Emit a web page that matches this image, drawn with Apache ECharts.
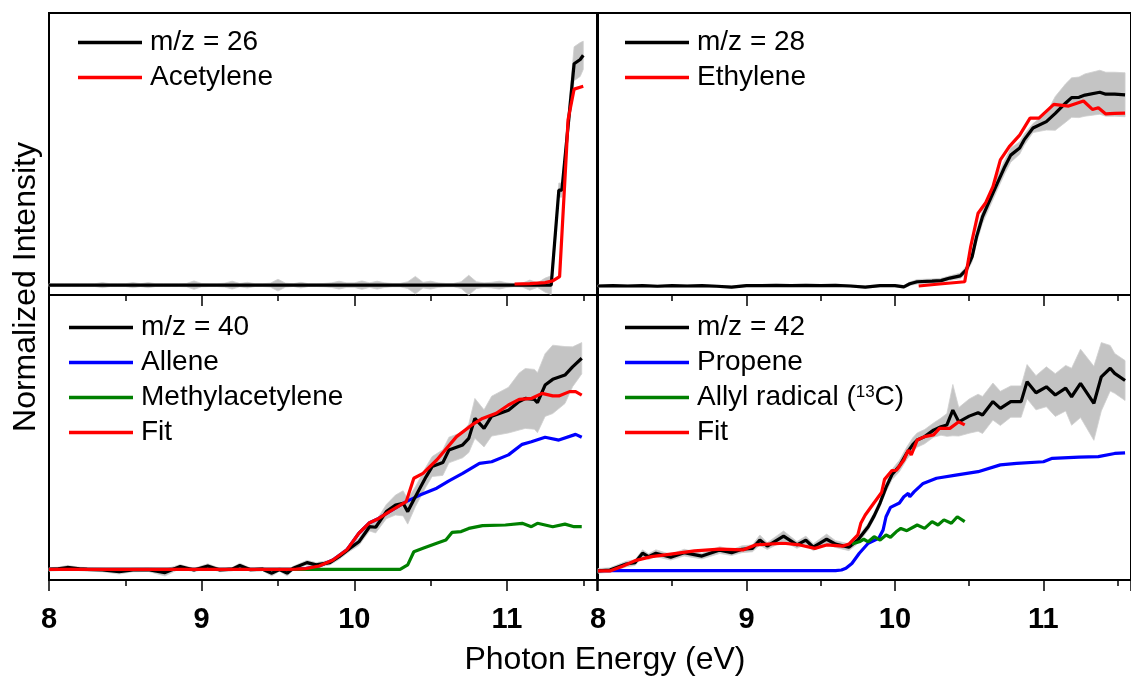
<!DOCTYPE html>
<html>
<head>
<meta charset="utf-8">
<script src="https://cdn.jsdelivr.net/npm/echarts@6/dist/echarts.min.js"></script>
<style>
  html, body { margin: 0; padding: 0; background: #fff; }
  #chart { width: 1131px; height: 683px; }
</style>
</head>
<body>
<div id="chart"></div>
<script>
// y values are read as percent of each panel's height (baseline ~3.5)
// ---- top left: m/z = 26 ----
const xMz26 = [8.00,8.05,8.10,8.15,8.20,8.25,8.30,8.35,8.40,8.45,8.50,8.55,8.60,8.65,8.70,8.75,8.80,8.85,8.90,8.95,
  9.00,9.05,9.10,9.15,9.20,9.25,9.30,9.35,9.40,9.45,9.50,9.55,9.60,9.65,9.70,9.75,9.80,9.85,9.90,9.95,
  10.00,10.05,10.10,10.15,10.20,10.25,10.30,10.35,10.40,10.45,10.50,10.55,10.60,10.65,10.70,10.75,10.80,10.85,10.90,10.95,
  11.00,11.05,11.10,11.15,11.20,11.25,11.29,11.34,11.36,11.44,11.48,11.50];
const yMz26 = [3.5,3.5,3.5,3.5,3.5,3.5,3.5,3.5,3.5,3.5,3.5,3.5,3.5,3.5,3.5,3.5,3.5,3.5,3.5,3.5,
  3.5,3.5,3.5,3.5,3.5,3.5,3.5,3.5,3.5,3.5,3.5,3.5,3.5,3.5,3.5,3.5,3.5,3.5,3.5,3.5,
  3.5,3.5,3.5,3.5,3.5,3.5,3.5,3.5,3.5,3.5,3.5,3.5,3.5,3.5,3.5,3.5,3.5,3.5,3.5,3.5,
  3.5,3.5,3.5,3.5,3.5,3.5,3.5,37.2,37.2,82,83.5,85];
const errMz26 = [.5,.5,.5,.5,.5,.5,.5,.9,.5,.5,.5,.9,.5,.9,.5,.5,.5,.5,.6,1.5,
  .6,.5,.5,.7,1.4,.6,1.0,.5,.5,.7,2.1,.7,.5,1.0,.5,.5,.6,.8,1.4,.8,
  .8,1.5,.8,1.4,.8,.6,.6,1.2,3.1,1.0,1.4,.8,.6,.6,1.2,3.5,1.2,.8,1.0,1.4,
  .8,.6,.7,1.8,.8,2.5,3.3,2.5,2.5,6,6,5];
const xAcetylene = [11.05,11.15,11.25,11.30,11.345,11.39,11.40,11.44,11.50];
const yAcetylene = [3.9,4.0,4.4,5.0,6.5,51,62,73,74];

// ---- top right: m/z = 28 ----
const xMz28 = [8.0,8.1,8.2,8.3,8.4,8.5,8.6,8.7,8.8,8.9,9.0,9.1,9.2,9.3,9.4,9.5,9.6,9.7,9.8,9.9,10.0,
  10.06,10.1,10.15,10.25,10.31,10.37,10.44,10.48,10.52,10.55,10.59,10.63,10.69,10.74,10.78,10.84,10.87,10.93,
  11.02,11.08,11.15,11.19,11.24,11.28,11.38,11.42,11.48,11.55];
const yMz28 = [3.2,3.3,3.2,3.3,3.1,3.3,3.2,3.3,3.1,2.8,3.3,3.3,3.4,3.3,3.4,3.3,3.4,3.2,2.8,3.3,3.3,
  2.9,4.0,4.7,4.9,5.1,6.0,6.8,8.9,13.6,20.7,27.8,32.6,39.7,45.5,49.6,52.1,55.0,59.2,
  61.5,64.4,68.1,70.0,70.1,70.9,71.9,71.2,71.2,71.0];
const errMz28 = [.4,.4,.4,.4,.4,.4,.4,.4,.4,.4,.4,.4,.4,.4,.4,.4,.4,.4,.4,.4,.4,
  .5,.6,.8,.8,.8,.8,1.0,1.3,1.8,2.2,2.4,2.4,2.4,2.4,2.5,2.2,2.0,1.6,
  3.0,6.0,6.8,7.0,7.2,7.5,7.8,7.8,7.8,7.8];
const xEthylene = [10.16,10.30,10.47,10.51,10.56,10.61,10.66,10.71,10.77,10.84,10.91,10.97,11.07,11.17,11.27,11.33,11.37,11.42,11.48,11.55];
const yEthylene = [3.2,3.9,4.7,17.1,29.0,32.6,38.4,47.9,52.6,56.7,62.7,62.7,67.6,67.0,68.8,65.8,66.4,64.2,64.4,64.5];

// ---- bottom left: m/z = 40 ----
const xMz40 = [8.00,8.06,8.12,8.20,8.25,8.35,8.46,8.55,8.65,8.76,8.86,8.95,9.04,9.12,9.20,9.25,9.32,9.40,9.46,9.51,
  9.56,9.60,9.69,9.75,9.84,9.90,9.97,10.03,10.10,10.14,10.21,10.27,10.32,10.35,10.40,10.47,10.51,10.58,10.62,10.71,
  10.75,10.79,10.85,10.90,11.01,11.08,11.12,11.18,11.20,11.25,11.30,11.38,11.43,11.49];
const yMz40 = [3.7,3.9,4.4,3.9,3.7,3.5,2.9,3.5,3.6,2.6,4.7,3.5,4.9,3.5,3.8,5.1,3.6,3.8,2.4,3.7,
  2.4,4.1,6.1,5.3,6.1,8.2,11.1,13.4,18.7,18.5,24.0,26.3,26.9,24.0,29.2,36.2,39.8,41.2,45.6,47.4,
  49.7,56.7,53.2,57.5,59.6,62.6,63.7,63.4,62.2,68.4,70.4,71.9,74.8,77.8];
const errMz40 = [.6,.6,.7,.6,.6,.6,.8,.6,.6,1.2,.7,.6,.8,.6,.6,.8,.6,.6,1.0,.6,
  1.0,.7,.8,.8,.8,1.0,1.0,1.3,1.5,2.0,2.5,3.5,4.4,4.4,3.5,3.5,3.5,4.5,4.5,4.5,
  5.0,7.0,6.5,7.0,8.0,10,10.5,10.5,10.5,11,12,10,7,5.5];
const xAllene = [8.00,9.55,9.62,9.68,9.77,9.86,9.95,10.03,10.10,10.16,10.23,10.34,10.43,10.54,10.62,10.71,10.82,10.90,11.01,11.10,11.16,11.25,11.34,11.45,11.49];
const yAllene = [3.7,3.7,3.8,4.0,4.9,7.0,10.5,16.4,20.1,21.6,24.0,27.5,29.8,32.2,34.8,37.4,40.9,41.5,43.9,47.6,48.5,50.1,49.1,51.1,50.1];
const xMethylacetylene = [8.00,10.30,10.35,10.39,10.45,10.54,10.60,10.64,10.70,10.75,10.84,10.99,11.10,11.16,11.20,11.30,11.38,11.44,11.49];
const yMethylacetylene = [3.7,3.7,5.3,9.9,11.1,12.9,14.0,16.7,17.0,18.1,19.1,19.3,19.9,18.7,19.9,18.7,19.6,18.7,18.7];
const xFit40 = [8.00,9.55,9.62,9.68,9.77,9.86,9.95,10.03,10.10,10.16,10.23,10.34,10.39,10.45,10.54,10.67,10.77,10.84,10.93,11.01,11.08,11.16,11.23,11.30,11.34,11.41,11.45,11.49];
const yFit40 = [3.7,3.7,3.8,4.0,4.9,7.0,10.5,16.4,20.1,21.6,24.0,27.5,35.7,37.4,42.1,50.3,54.4,56.7,58.5,61.4,63.4,63.7,65.5,64.6,64.6,66.1,66.1,64.9];

// ---- bottom right: m/z = 42 ----
const xMz42 = [8.00,8.08,8.19,8.25,8.30,8.34,8.39,8.49,8.58,8.70,8.82,8.90,8.97,9.04,9.09,9.14,9.25,9.34,9.40,9.45,
  9.54,9.60,9.69,9.75,9.82,9.86,9.90,9.94,9.98,10.03,10.08,10.12,10.15,10.20,10.26,10.31,10.35,10.39,10.43,10.50,
  10.56,10.59,10.66,10.71,10.78,10.85,10.89,10.95,11.02,11.08,11.15,11.19,11.25,11.34,11.39,11.45,11.48,11.55];
const yMz42 = [3.2,3.5,5.6,6.1,9.4,8.2,9.4,8.0,9.6,8.4,10.5,9.6,10.8,11.1,14.0,11.9,15.4,12.3,14.0,11.5,
  14.3,12.6,11.5,14.0,18.7,22.5,27.0,32.5,37.0,40.0,44.5,47.5,49.1,50.3,52.6,53.8,54.4,59.6,55.5,57.5,
  58.7,57.9,62.6,60.2,62.6,62.6,69.6,65.7,67.8,64.9,67.3,64.3,69.0,62.0,71.3,74.3,72.5,70.0];
const errMz42 = [.8,.8,1.0,1.0,1.2,1.0,1.2,1.0,1.2,1.0,1.2,1.0,1.2,1.2,1.8,1.2,1.8,1.2,1.4,1.2,
  1.8,1.2,1.2,1.2,1.2,1.2,1.3,1.5,1.8,2.0,2.2,2.4,2.5,2.5,2.5,3.0,4.0,9.0,5.0,6.0,
  6.5,6.5,6.5,6.0,5.5,5.5,6.0,6.0,7.0,7.5,8.0,10.0,12.0,13.0,12.0,8.0,7.0,7.0];
const xPropene = [8.00,9.60,9.64,9.67,9.71,9.76,9.82,9.89,9.92,9.94,9.97,10.03,10.06,10.09,10.10,10.13,10.19,10.28,10.41,10.56,10.71,10.82,11.00,11.06,11.24,11.37,11.48,11.55];
const yPropene = [3.3,3.3,3.5,4.1,5.8,9.4,12.9,14.6,17.5,22.2,25.5,27.0,29.2,30.4,29.2,31.0,33.9,35.7,36.8,38.0,40.4,40.9,41.5,42.7,43.1,43.3,44.4,44.6];
const xAllyl = [9.71,9.76,9.79,9.82,9.86,9.90,9.94,9.97,10.01,10.04,10.08,10.15,10.20,10.25,10.29,10.33,10.38,10.42,10.47];
const yAllyl = [12.6,13.4,14.3,13.4,15.2,14.0,15.8,15.0,17.0,18.1,17.3,19.3,18.1,20.5,19.3,21.1,19.9,22.2,20.5];
const xFit42 = [8.00,8.08,8.17,8.25,8.36,8.49,8.65,8.82,8.98,9.06,9.25,9.36,9.46,9.54,9.65,9.69,9.75,9.77,9.80,9.84,9.91,9.93,9.98,10.01,10.06,10.09,10.11,10.15,10.20,10.26,10.30,10.37,10.43,10.47];
const yFit42 = [3.2,3.2,4.9,6.8,8.2,9.1,10.2,10.8,10.6,12.3,12.9,12.3,11.1,12.3,11.9,12.6,15.8,19.9,22.8,25.7,30.7,35.3,38.4,38.5,42.1,45.6,43.9,49.1,50.3,50.9,53.2,53.2,55.5,54.4];

const xTicks = [8, 9, 10, 11];

const font = 'Liberation Sans, Arial, sans-serif';

function pairs(xs, ys) {
  return xs.map((x, i) => [x, ys[i]]);
}

function line(name, xs, ys, color, idx) {
  return {
    name: name, type: 'line', xAxisIndex: idx, yAxisIndex: idx,
    data: pairs(xs, ys), color: color,
    showSymbol: false, symbol: 'none', silent: true,
    lineStyle: { color: color, width: 3.2 }
  };
}

// gray uncertainty band, drawn as one polygon through the axis scales
function band(xs, ys, err, idx) {
  const rows = xs.map((x, i) => [x, ys[i] - err[i], ys[i] + err[i]]);
  return {
    type: 'custom', xAxisIndex: idx, yAxisIndex: idx, silent: true,
    data: rows, encode: { x: 0, y: [1, 2] },
    renderItem: function (params, api) {
      if (params.dataIndex !== 0) return null;
      const top = rows.map(r => api.coord([r[0], r[2]]));
      const bot = rows.map(r => api.coord([r[0], r[1]])).reverse();
      return {
        type: 'polygon',
        shape: { points: top.concat(bot) },
        style: { fill: '#c4c4c4', stroke: '#cfcfcf', lineWidth: 0.8 }
      };
    }
  };
}

const grids = [
  { left: 49, top: 13, width: 548, height: 282 },
  { left: 598, top: 13, width: 549, height: 282 },
  { left: 49, top: 295, width: 548, height: 285 },
  { left: 598, top: 295, width: 549, height: 285 }
];

function xAxis(idx, labels) {
  return {
    type: 'value', gridIndex: idx, min: xTicks[0], max: 11.59, interval: 1,
    axisLine: { show: true, onZero: false, lineStyle: { color: '#000', width: 2 } },
    axisTick: { show: true, inside: false, length: 11, lineStyle: { color: '#000', width: 1.5 } },
    minorTick: { show: true, splitNumber: 2, length: 6, lineStyle: { color: '#000', width: 1.5 } },
    splitLine: { show: false },
    axisLabel: {
      show: labels, showMaxLabel: false, margin: 25,
      color: '#000', fontFamily: font, fontWeight: 'bold', fontSize: 29
    }
  };
}

function yAxis(idx) {
  return { type: 'value', gridIndex: idx, min: 0, max: 100, show: false, splitLine: { show: false } };
}

function legend(left, top, names) {
  return {
    left: left, top: top, orient: 'vertical', data: names, padding: 0,
    icon: 'rect', itemWidth: 64, itemHeight: 3.5, itemGap: 0,
    selectedMode: false,
    formatter: function (name) {
      return name.replace('¹³', '{sup|13}');
    },
    textStyle: {
      color: '#000', fontFamily: font, fontSize: 28, lineHeight: 35, padding: [0, 0, 0, 3],
      rich: { sup: { fontFamily: font, fontSize: 17, lineHeight: 35, verticalAlign: 'top', padding: [4, 0, 0, 0] } }
    }
  };
}

const option = {
  animation: false,
  backgroundColor: '#fff',
  grid: grids.map(g => Object.assign({ show: true, borderColor: '#000', borderWidth: 2, backgroundColor: 'transparent' }, g)),
  xAxis: [xAxis(0, false), xAxis(1, false), xAxis(2, true), xAxis(3, true)],
  yAxis: [yAxis(0), yAxis(1), yAxis(2), yAxis(3)],
  legend: [
    legend(78, 25, ['m/z = 26', 'Acetylene']),
    legend(625, 25, ['m/z = 28', 'Ethylene']),
    legend(69, 310, ['m/z = 40', 'Allene', 'Methylacetylene', 'Fit']),
    legend(625, 310, ['m/z = 42', 'Propene', 'Allyl radical (¹³C)', 'Fit'])
  ],
  series: [
    band(xMz26, yMz26, errMz26, 0),
    band(xMz28, yMz28, errMz28, 1),
    band(xMz40, yMz40, errMz40, 2),
    band(xMz42, yMz42, errMz42, 3),
    line('m/z = 26', xMz26, yMz26, '#000000', 0),
    line('Acetylene', xAcetylene, yAcetylene, '#ff0000', 0),
    line('m/z = 28', xMz28, yMz28, '#000000', 1),
    line('Ethylene', xEthylene, yEthylene, '#ff0000', 1),
    line('Allene', xAllene, yAllene, '#0000ff', 2),
    line('Methylacetylene', xMethylacetylene, yMethylacetylene, '#008000', 2),
    line('m/z = 40', xMz40, yMz40, '#000000', 2),
    line('Fit', xFit40, yFit40, '#ff0000', 2),
    line('Propene', xPropene, yPropene, '#0000ff', 3),
    line('m/z = 42', xMz42, yMz42, '#000000', 3),
    line('Allyl radical (¹³C)', xAllyl, yAllyl, '#008000', 3),
    line('Fit', xFit42, yFit42, '#ff0000', 3)
  ],
  graphic: [
    { type: 'text', x: 605, y: 660,
      style: { text: 'Photon Energy (eV)', fill: '#000', font: '32px ' + font, align: 'center', verticalAlign: 'middle' } },
    { type: 'text', x: 26, y: 287, rotation: Math.PI / 2,
      style: { text: 'Normalized Intensity', fill: '#000', font: '32px ' + font, align: 'center', verticalAlign: 'middle' } }
  ]
};

const chart = echarts.init(document.getElementById('chart'), null, { renderer: 'canvas' });
chart.setOption(option);
</script>
</body>
</html>
